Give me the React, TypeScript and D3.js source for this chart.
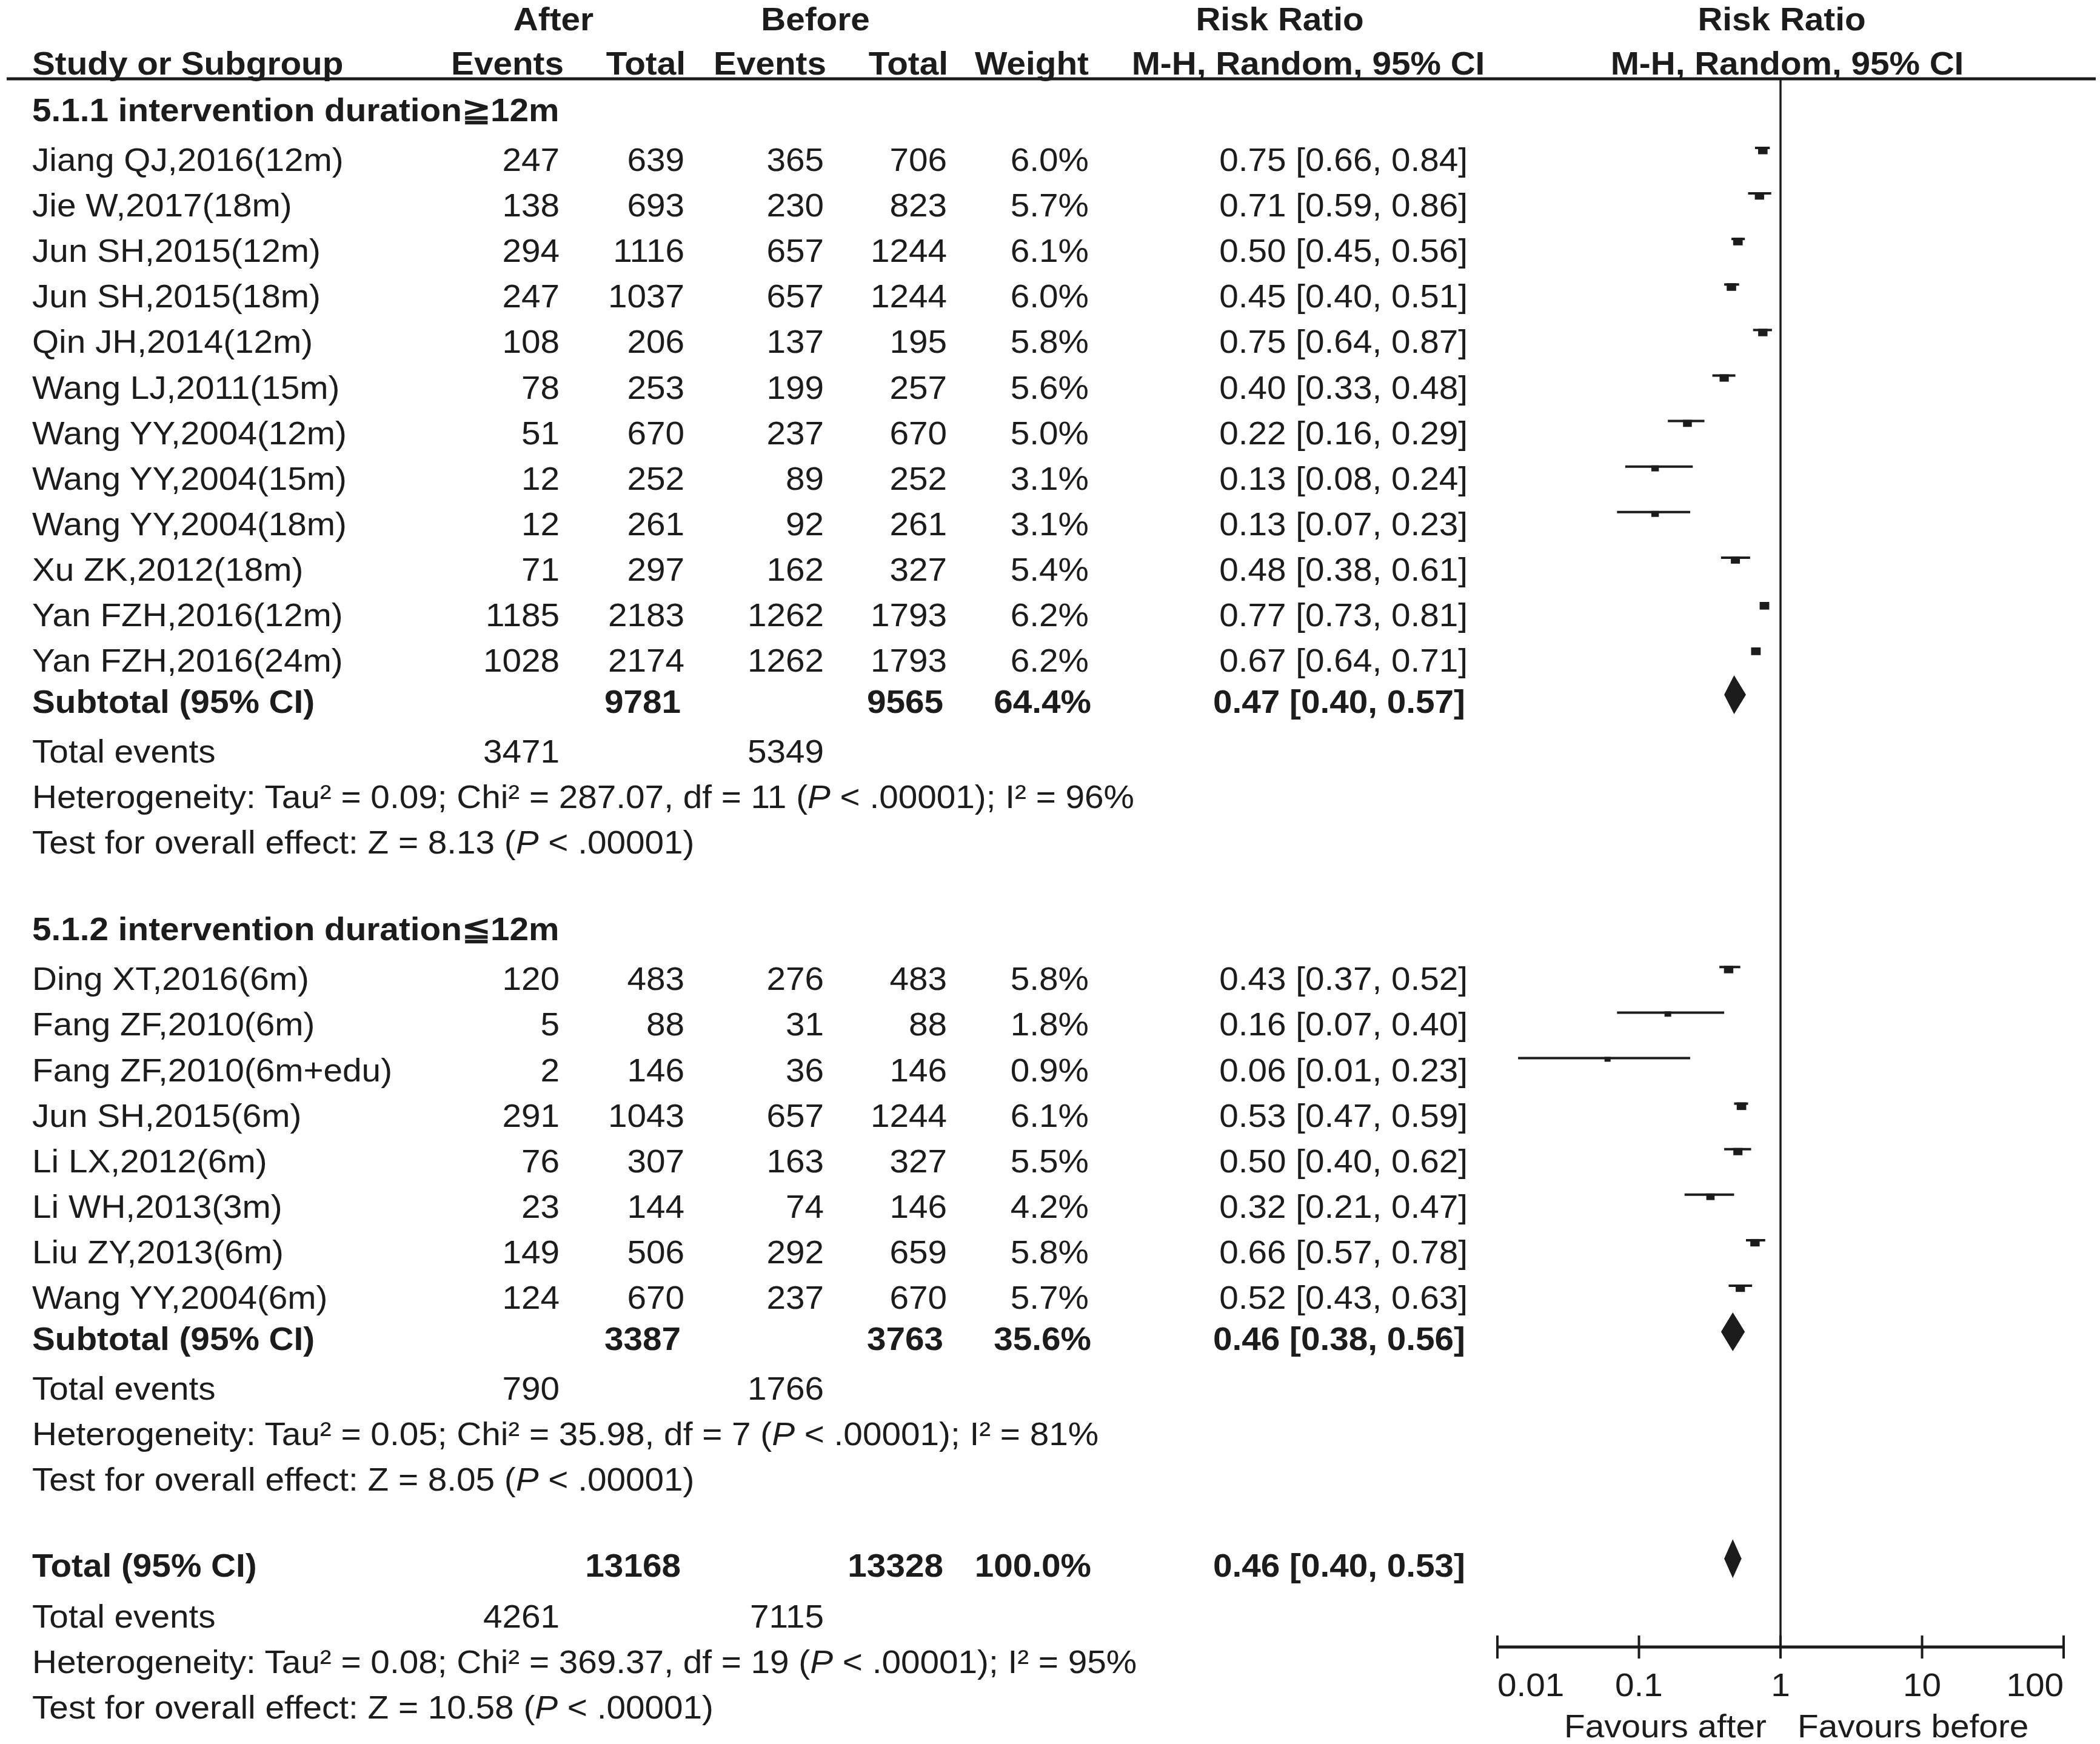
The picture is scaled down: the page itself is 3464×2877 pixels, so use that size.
import React from "react";
import * as d3 from "d3";

const W = 3464;
const H = 2877;

// ---- Data ----
const g1Title = "5.1.1 intervention duration\u226712m";
const g1Names = [
  "Jiang QJ,2016(12m)", "Jie W,2017(18m)", "Jun SH,2015(12m)", "Jun SH,2015(18m)",
  "Qin JH,2014(12m)", "Wang LJ,2011(15m)", "Wang YY,2004(12m)", "Wang YY,2004(15m)",
  "Wang YY,2004(18m)", "Xu ZK,2012(18m)", "Yan FZH,2016(12m)", "Yan FZH,2016(24m)",
];
const g1AfterEvents = [247, 138, 294, 247, 108, 78, 51, 12, 12, 71, 1185, 1028];
const g1AfterTotal = [639, 693, 1116, 1037, 206, 253, 670, 252, 261, 297, 2183, 2174];
const g1BeforeEvents = [365, 230, 657, 657, 137, 199, 237, 89, 92, 162, 1262, 1262];
const g1BeforeTotal = [706, 823, 1244, 1244, 195, 257, 670, 252, 261, 327, 1793, 1793];
const g1Weight = [6.0, 5.7, 6.1, 6.0, 5.8, 5.6, 5.0, 3.1, 3.1, 5.4, 6.2, 6.2];
const g1RR = [0.75, 0.71, 0.50, 0.45, 0.75, 0.40, 0.22, 0.13, 0.13, 0.48, 0.77, 0.67];
const g1Lo = [0.66, 0.59, 0.45, 0.40, 0.64, 0.33, 0.16, 0.08, 0.07, 0.38, 0.73, 0.64];
const g1Hi = [0.84, 0.86, 0.56, 0.51, 0.87, 0.48, 0.29, 0.24, 0.23, 0.61, 0.81, 0.71];
const g1Sub = { at: 9781, bt: 9565, w: "64.4%", rr: 0.47, lo: 0.40, hi: 0.57, ae: 3471, be: 5349 };
const g1Het = ["0.09", "287.07", "11", "96%"];
const g1Z = "8.13";

const g2Title = "5.1.2 intervention duration\u226612m";
const g2Names = [
  "Ding XT,2016(6m)", "Fang ZF,2010(6m)", "Fang ZF,2010(6m+edu)", "Jun SH,2015(6m)",
  "Li LX,2012(6m)", "Li WH,2013(3m)", "Liu ZY,2013(6m)", "Wang YY,2004(6m)",
];
const g2AfterEvents = [120, 5, 2, 291, 76, 23, 149, 124];
const g2AfterTotal = [483, 88, 146, 1043, 307, 144, 506, 670];
const g2BeforeEvents = [276, 31, 36, 657, 163, 74, 292, 237];
const g2BeforeTotal = [483, 88, 146, 1244, 327, 146, 659, 670];
const g2Weight = [5.8, 1.8, 0.9, 6.1, 5.5, 4.2, 5.8, 5.7];
const g2RR = [0.43, 0.16, 0.06, 0.53, 0.50, 0.32, 0.66, 0.52];
const g2Lo = [0.37, 0.07, 0.014, 0.47, 0.40, 0.21, 0.57, 0.43];
const g2Hi = [0.52, 0.40, 0.23, 0.59, 0.62, 0.47, 0.78, 0.63];
const g2Sub = { at: 3387, bt: 3763, w: "35.6%", rr: 0.46, lo: 0.38, hi: 0.56, ae: 790, be: 1766 };
const g2Het = ["0.05", "35.98", "7", "81%"];
const g2Z = "8.05";

const totSub = { at: 13168, bt: 13328, w: "100.0%", rr: 0.46, lo: 0.40, hi: 0.53, ae: 4261, be: 7115 };
const totHet = ["0.08", "369.37", "19", "95%"];
const totZ = "10.58";

const axisTicks = [0.01, 0.1, 1, 10, 100];
const axisTickLabels = ["0.01", "0.1", "1", "10", "100"];

// ---- Layout ----
const FS = 54;
const SX = 1.05;
const FONT = "'Liberation Sans', Arial, Helvetica, sans-serif";
const COL = { name: 53, ae: 923, at: 1129, be: 1359, bt: 1562, w: 1796, ci: 2421 };
const ROW = 75.1;
const INK = "#1c1c1c";

const fmt = (v: number) => v.toFixed(2);
const ciText = (rr: number, lo: number, hi: number) => `${fmt(rr)} [${fmt(lo)}, ${fmt(hi)}]`;

export default function App() {
  const x = d3.scaleLog().domain([0.01, 100]).range([2470, 3404]);
  const axisY = 2717;
  const topY = 130;

  const els: React.ReactNode[] = [];
  let key = 0;
  const T = (
    xx: number, cy: number, s: React.ReactNode, anchor: "start" | "middle" | "end" = "start", bold = false
  ) => {
    els.push(
      <text key={key++} transform={`translate(${xx},${cy + 19}) scale(${SX},1)`} x={0} y={0}
        textAnchor={anchor} fontWeight={bold ? "bold" : "normal"}>
        {s}
      </text>
    );
  };

  const marker = (cy: number, rr: number, lo: number, hi: number, w: number) => {
    const ly = cy - 19;
    const s = 9 + 1.1 * w;
    els.push(<line key={key++} x1={x(lo)} x2={x(hi)} y1={ly} y2={ly} stroke={INK} strokeWidth={4} />);
    els.push(<rect key={key++} x={x(rr) - s / 2} y={ly - 2} width={s} height={s * 0.8} fill={INK} />);
  };
  const diamond = (cy: number, rr: number, lo: number, hi: number) => {
    const dy = cy - 11;
    const h = 32;
    const p = [
      [x(lo), dy], [x(rr), dy - h], [x(hi), dy], [x(rr), dy + h],
    ].map((q) => q.join(",")).join(" ");
    els.push(<polygon key={key++} points={p} fill={INK} />);
  };

  const hetText = (h: string[]) => (
    <>
      {`Heterogeneity: Tau\u00b2 = ${h[0]}; Chi\u00b2 = ${h[1]}, df = ${h[2]} (`}
      <tspan fontStyle="italic">P</tspan>
      {` < .00001); I\u00b2 = ${h[3]}`}
    </>
  );
  const zText = (z: string) => (
    <>
      {`Test for overall effect: Z = ${z} (`}
      <tspan fontStyle="italic">P</tspan>
      {` < .00001)`}
    </>
  );

  // header
  T(913, 31, "After", "middle", true);
  T(1345, 31, "Before", "middle", true);
  T(2111, 31, "Risk Ratio", "middle", true);
  T(2939, 31, "Risk Ratio", "middle", true);
  T(COL.name, 104, "Study or Subgroup", "start", true);
  T(930, 104, "Events", "end", true);
  T(1131, 104, "Total", "end", true);
  T(1363, 104, "Events", "end", true);
  T(1564, 104, "Total", "end", true);
  T(1796, 104, "Weight", "end", true);
  T(2158, 104, "M-H, Random, 95% CI", "middle", true);
  T(2948, 104, "M-H, Random, 95% CI", "middle", true);

  const group = (
    startY: number, title: string, names: string[], ae: number[], at: number[], be: number[], bt: number[],
    w: number[], rr: number[], lo: number[], hi: number[], sub: typeof g1Sub, het: string[], z: string
  ) => {
    T(COL.name, startY, title, "start", true);
    let y = startY + 82;
    names.forEach((n, i) => {
      T(COL.name, y, n);
      T(COL.ae, y, String(ae[i]), "end");
      T(COL.at, y, String(at[i]), "end");
      T(COL.be, y, String(be[i]), "end");
      T(COL.bt, y, String(bt[i]), "end");
      T(COL.w, y, `${w[i].toFixed(1)}%`, "end");
      T(COL.ci, y, ciText(rr[i], lo[i], hi[i]), "end");
      marker(y, rr[i], lo[i], hi[i], w[i]);
      y += ROW;
    });
    y = y - ROW + 68;
    T(COL.name, y, "Subtotal (95% CI)", "start", true);
    T(COL.at - 6, y, String(sub.at), "end", true);
    T(COL.bt - 6, y, String(sub.bt), "end", true);
    T(COL.w + 4, y, sub.w, "end", true);
    T(COL.ci - 4, y, ciText(sub.rr, sub.lo, sub.hi), "end", true);
    diamond(y, sub.rr, sub.lo, sub.hi);
    y += 82;
    T(COL.name, y, "Total events");
    T(COL.ae, y, String(sub.ae), "end");
    T(COL.be, y, String(sub.be), "end");
    y += ROW;
    T(COL.name, y, hetText(het));
    y += ROW;
    T(COL.name, y, zText(z));
    return y;
  };

  let y = group(181, g1Title, g1Names, g1AfterEvents, g1AfterTotal, g1BeforeEvents, g1BeforeTotal,
    g1Weight, g1RR, g1Lo, g1Hi, g1Sub, g1Het, g1Z);
  y = group(y + 143, g2Title, g2Names, g2AfterEvents, g2AfterTotal, g2BeforeEvents, g2BeforeTotal,
    g2Weight, g2RR, g2Lo, g2Hi, g2Sub, g2Het, g2Z);

  y += 142;
  T(COL.name, y, "Total (95% CI)", "start", true);
  T(COL.at - 6, y, String(totSub.at), "end", true);
  T(COL.bt - 6, y, String(totSub.bt), "end", true);
  T(COL.w + 4, y, totSub.w, "end", true);
  T(COL.ci - 4, y, ciText(totSub.rr, totSub.lo, totSub.hi), "end", true);
  diamond(y, totSub.rr, totSub.lo, totSub.hi);
  y += 84;
  T(COL.name, y, "Total events");
  T(COL.ae, y, String(totSub.ae), "end");
  T(COL.be, y, String(totSub.be), "end");
  y += ROW;
  T(COL.name, y, hetText(totHet));
  y += ROW;
  T(COL.name, y, zText(totZ));

  return (
    <svg width={W} height={H} style={{ position: "absolute", left: 0, top: 0, background: "#fff" }}
      fontFamily={FONT} fontSize={FS} fill={INK}>
      <rect x={0} y={0} width={W} height={H} fill="#fff" />
      <line x1={11} x2={3457} y1={topY} y2={topY} stroke={INK} strokeWidth={5} />
      <line x1={x(1)} x2={x(1)} y1={topY} y2={axisY} stroke={INK} strokeWidth={3.5} />
      {els}
      <line x1={x(0.01)} x2={x(100)} y1={axisY} y2={axisY} stroke={INK} strokeWidth={5} />
      {axisTicks.map((t, i) => (
        <g key={`t${i}`}>
          <line x1={x(t)} x2={x(t)} y1={axisY - 19} y2={axisY + 19} stroke={INK} strokeWidth={4} />
          <text transform={`translate(${x(t)},2798) scale(${SX},1)`}
            textAnchor={i === 0 ? "start" : i === axisTicks.length - 1 ? "end" : "middle"}>
            {axisTickLabels[i]}
          </text>
        </g>
      ))}
      <text transform={`translate(${x(1) - 23},2866) scale(${SX},1)`} textAnchor="end">Favours after</text>
      <text transform={`translate(${x(1) + 28},2866) scale(${SX},1)`} textAnchor="start">Favours before</text>
    </svg>
  );
}
